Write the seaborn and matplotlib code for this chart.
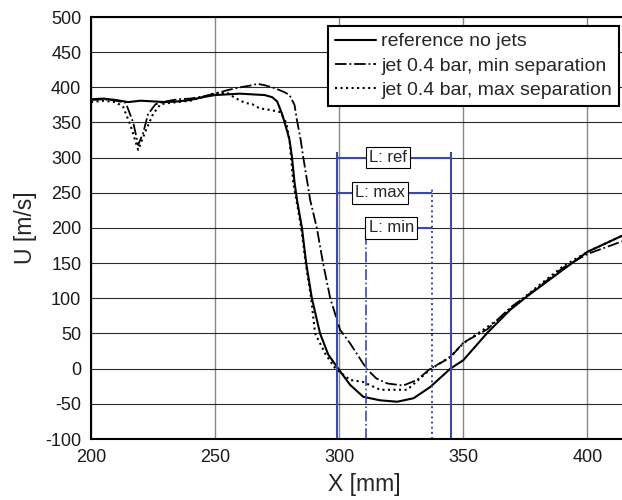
import matplotlib
matplotlib.use("Agg")
import matplotlib.pyplot as plt
import seaborn as sns

# ==============================
# DATA
# ==============================
x_ref = [200, 205, 210, 215, 220, 225, 230, 235, 240, 245, 250, 255, 260, 265, 270,
         273, 275, 277, 279, 280, 281, 282, 283, 284, 285, 286.7, 289, 292.3, 295.6,
         299.6, 304.4, 309.7, 316.5, 323.4, 330, 336.7, 344.8, 350, 359.7, 369,
         375.8, 390.3, 400, 414]
u_ref = [383, 384, 382, 379, 381, 380, 379, 380, 382, 386, 389, 390, 391, 390, 389,
         386, 380, 362, 338, 325, 300, 265, 240, 220, 200, 150, 100, 50, 20,
         0, -23, -40, -45, -47, -42, -26, 0, 12, 51, 84,
         103, 141, 166, 189]

x_min = [200, 205, 210, 214, 217, 219, 221, 223, 226, 230, 235, 240, 245, 250, 255,
         260, 265, 267, 270, 273, 276, 278, 280, 282, 283, 284.5, 285.5, 287.5, 288.3,
         291, 293.5, 296.4, 300.4, 304.4, 311, 315, 319.4, 325.8, 331.4, 336.7,
         344.8, 350, 359.7, 369, 380, 390, 400, 414]
u_min = [382, 383, 381, 378, 350, 318, 335, 362, 376, 380, 383, 384, 387, 391, 396,
         400, 403, 405, 403, 400, 396, 393, 389, 375, 353, 325, 301, 258, 240,
         200, 150, 100, 55, 36, 0, -14, -21, -24, -16, 0,
         16, 37, 56, 87, 115, 143, 163, 181]

x_max = [200, 205, 210, 213, 216, 219, 222, 225, 228, 232, 240, 245, 250, 255, 258,
         262, 265, 268, 272, 276, 278, 279, 280, 281.5, 283, 284.7, 286.5, 288.7,
         290.3, 294.6, 298.5, 304.4, 309.7, 316.5, 327.4, 336.7, 344.8, 350, 363.7,
         369, 380, 390, 400, 414]
u_max = [379, 381, 379, 372, 345, 311, 338, 362, 376, 378, 381, 386, 392, 392, 385,
         378, 376, 370, 368, 365, 355, 344, 325, 264, 235, 200, 150, 100,
         50, 20, 0, -16, -19, -30, -30, -1, 17, 36, 69,
         85, 117, 145, 166, 189]

series_labels = ["reference no jets",
                 "jet 0.4 bar, min separation",
                 "jet 0.4 bar, max separation"]

# separation lengths
len_names = ["L: ref", "L: max", "L: min"]
len_left = [299, 299, 311]
len_right = [345, 337.6, 337.6]
len_level = [300, 250, 200]
len_text_x = [319.6, 316.5, 321]

blue = "#3a4aa8"

# ==============================
# PLOT
# ==============================
sns.set_style("white")
plt.rcParams["font.family"] = ["Liberation Sans", "DejaVu Sans"]
plt.rcParams["axes.unicode_minus"] = False

fig = plt.figure(figsize=(6.22, 5.0), dpi=100)
ax = fig.add_axes([91 / 622, 61 / 500, 546 / 622, 422 / 500])

sns.lineplot(x=x_ref, y=u_ref, ax=ax, color="black", lw=1.5, linestyle="-",
             label=series_labels[0])
sns.lineplot(x=x_min, y=u_min, ax=ax, color="black", lw=1.3, linestyle="-.",
             label=series_labels[1])
sns.lineplot(x=x_max, y=u_max, ax=ax, color="black", lw=1.5, linestyle=":",
             label=series_labels[2])

# separation markers
ax.vlines([len_left[0], len_right[0]], -100, 308, colors=blue, lw=1.5)
ax.vlines(len_right[1], -100, 258, colors=blue, lw=1.4, linestyles=":")
ax.vlines(len_left[2], -100, 210, colors=blue, lw=1.2, linestyles="-.")
for i in range(3):
    ax.hlines(len_level[i], len_left[i], len_right[i], colors=blue, lw=1.5, zorder=3)
    ax.text(len_text_x[i], len_level[i], len_names[i], ha="center", va="center",
            fontsize=12, zorder=4,
            bbox=dict(boxstyle="square,pad=0.2", fc="white", ec="black", lw=0.8))

ax.set_xlim(200, 420)
ax.set_ylim(-100, 500)
ax.set_xticks([200, 250, 300, 350, 400])
ax.set_yticks(range(-100, 501, 50))

ax.yaxis.grid(True, color="#2a2a2a", lw=0.8)
ax.xaxis.grid(True, color="#888888", lw=1.0)
ax.set_axisbelow(True)

for side in ["left", "top", "bottom"]:
    ax.spines[side].set_color("black")
    ax.spines[side].set_linewidth(1.5)
ax.spines["right"].set_visible(False)

ax.tick_params(axis="both", length=0, labelsize=13, colors="#1a1a1a")
ax.tick_params(axis="x", pad=7)
ax.tick_params(axis="y", pad=7)
ax.set_xlabel("X [mm]", fontsize=16.5, labelpad=5)
ax.set_ylabel("U [m/s]", fontsize=16.5, labelpad=6)

leg = ax.legend(loc="upper right", bbox_to_anchor=(619 / 622, 1 - 26 / 500),
                bbox_transform=fig.transFigure, fontsize=14, frameon=True,
                fancybox=False, edgecolor="black", framealpha=1,
                handlelength=2.1, handletextpad=0.3, labelspacing=0.35,
                borderpad=0.35, borderaxespad=0)
leg.get_frame().set_linewidth(1.5)

plt.savefig("out.png", dpi=100)
plt.close()
